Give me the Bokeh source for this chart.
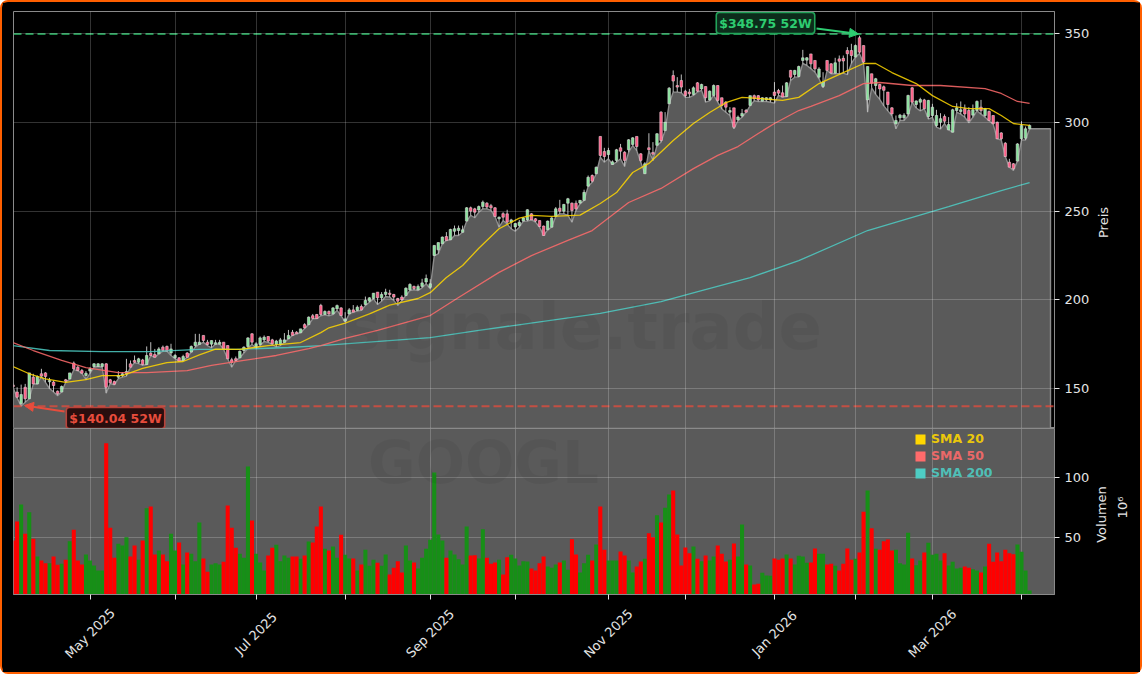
import math
from bokeh.core.properties import value
from bokeh.embed import file_html
from bokeh.layouts import column, row
from bokeh.models import Arrow, BoxAnnotation, FixedTicker, Label, NormalHead
from bokeh.plotting import figure
from bokeh.resources import INLINE

tick_indices = [19, 40, 60, 82, 103, 124, 147, 166, 188, 208, 227, 249]
tick_labels = {19: "May 2025", 60: "Jul 2025", 103: "Sep 2025", 147: "Nov 2025", 188: "Jan 2026", 227: "Mar 2026"}

lows = [
 150.7,144.7,140.04,142.3,144.2,152.5,152.5,156.8,153.5,150,
 148,146,148,153.5,155.4,160.6,160,158.5,155,158.5,
 162,162.4,162,147.4,152.8,152,155.6,156.4,157,162,
 164.5,164,163,163.5,168.5,167.6,169.5,171,171,168.6,
 166.8,165.4,165.8,167.6,170.5,173.3,175,176,174.2,172.9,
 175,175,172,166.7,162,165.8,167.3,170,172.5,175,
 172.5,174.2,176.5,176,174.8,173.3,174.2,176,178,179.9,
 180.8,181.4,183.8,186,189.3,189.4,191,191.5,191,191.7,
 194,191,187.4,192,193,193.6,194,196.8,198.6,200.5,
 197.3,199.2,201.8,201.5,199.6,196.8,199.6,202.4,205.2,205.6,
 205.2,206.7,209,206.2,224.9,225.9,231.5,233.4,233.8,236.2,
 236.2,238,244.3,247.5,246.2,249.3,251.2,251.2,250.3,246.9,
 240.9,244.6,242.7,239.9,238.6,240.9,244.3,244.3,245,243.7,
 240.9,236.2,239.4,240.9,246.9,248.4,248.4,247.5,243.7,250.3,
 254,256,263.8,266.2,271,280.3,277.5,279.4,276.2,277.5,
 279.4,275.1,283.1,286.9,284,277.5,271,284,278.4,286.9,
 288.8,295.3,310.4,317,317,316.6,314,314,315.1,317,
 318,311.3,312.1,315.1,311.3,307.5,305.6,303.8,296.3,301,
 302.8,305.6,309.4,312.1,311.7,311.7,311.7,311.3,310.8,315.1,
 314.2,314.5,323.5,325.4,325.4,333.1,332,330.2,328.2,324.5,
 319.4,329.2,327.3,327.3,327.3,327.7,326.8,333.1,336.7,338.7,
 333.1,305.7,319.4,315.7,312.9,309.2,306.4,303.7,296.3,301,
 301,303.7,311.3,308,306.4,307.6,301.8,302.8,297.2,296.2,
 299.2,295.7,294.4,305.7,304.6,302.8,299.6,302.8,306.4,304.6,
 302.8,300.8,299,290.6,290,280.7,274.7,272.9,278.1,290,
 290,296.3]

highs = [
 153,150.7,152.2,152.6,158.8,158.3,157.3,161.1,159.2,156,
 154.5,148.9,151.7,155.4,158.8,165.2,162.9,161,159.8,162,
 164.3,164.3,164.3,164.3,155.4,154.5,159.8,159.2,166.7,165.8,
 168.6,167.3,166.7,173.7,176.1,172.3,173.3,174.2,174.2,175.2,
 169.5,167.7,169,170.5,174.2,180.8,180.8,179.9,177.4,177,
 177.4,177.4,176.1,174.2,167.3,168,171.4,173.7,178.9,181.2,
 176.1,179.3,179.9,179.3,178,177.4,178.5,181.2,183,183,
 182.3,183.6,186.8,190.6,192,192,197.7,194,194,195.8,
 197.3,195.8,193,195.3,197,196.8,197.3,201.8,201.4,203.7,
 204.3,204.3,206.2,205.6,203.3,201.1,202.5,207,209.3,208,
 208.6,211.8,214.2,211.6,230.6,232.2,235.6,238.1,240,241.8,
 241.8,241.8,252.2,252.5,251.8,253.1,255.9,255,254,252.2,
 246.9,249.3,250.7,245.6,243.1,245,246.5,251,248.8,246,
 244.6,241.8,244.6,246.5,252.2,256.3,254,257.4,254.8,255.9,
 255.9,262,270,270.6,275,292,285.6,285.6,278.5,285,
 287.8,283.7,290.5,291.6,292,282.6,277.5,293.8,288.8,293.9,
 306.2,305.7,319.8,329.2,325.4,326.9,318.3,318.8,320.2,322.6,
 321.7,320.1,317.9,321.3,320.7,313.8,311.9,308.5,308.1,303.8,
 307.5,307.5,315,315.6,315.3,314.1,314.1,314.1,322.6,318.8,
 320.7,322.6,329.5,329.5,331.9,340.8,336.7,338.5,334.8,331,
 328.2,334.8,333.3,336.3,337.6,337.6,342.3,344.2,343.8,348.75,
 343.2,331.4,327.3,325,321.6,320.7,317,308.5,303.8,304.7,
 305.1,315.5,319.8,312.3,313.8,313.2,312.6,310.4,307,305.1,
 304.4,302.9,307.6,310.7,311.7,310,308.5,310,312.3,312.6,
 308.1,306.6,303.8,300.4,294.4,288.8,279.4,277,288.2,300.6,
 297.6,298.7]

body_lo = [
 151,145.1,141.4,144.2,144.2,152.6,152.6,157,156.8,153.8,
 151.7,147,148,154.1,155.4,161.1,160.1,158.6,157.3,159.8,
 162.4,162.4,162.4,150.7,153.2,152.4,156.4,157.3,158.3,162,
 164.8,164.8,163.5,163.5,168.6,167.6,169.5,171.4,171,170,
 167.3,165.4,165.8,167.6,170.5,174.2,174.8,177.1,174.8,175,
 174.9,175,172.3,166.7,164.6,165.8,167.3,171.4,173.7,176.1,
 173.3,174.8,177.4,176.7,175.2,174.8,174.8,176,178,179.9,
 180.8,181.4,184.2,186,189.5,189.4,191.7,191.7,192,192,
 194.9,191.1,188,192,193,194,194.3,197.3,199.2,200.7,
 201.1,201.1,203,203,201.5,199.2,200,202.4,205.6,206.3,
 205.6,207.5,210,207,224.9,228.1,231.5,233.4,233.8,238.6,
 239,238,244.3,249.9,249.3,250.6,252.5,252.2,251.8,246.9,
 245.6,246.5,243.7,243.7,241,241.8,244.3,245,245,244.3,
 241.3,236.2,239.4,240.9,246.9,249.9,249.9,254.4,250.3,251.2,
 254.5,256,264,266.8,271,281.3,280.7,281.8,276.2,278.5,
 283.7,278.5,284.5,287.5,286.3,278.5,271,284.5,282,287,
 289.7,295.3,310.4,323.2,319.8,319.8,315,316,315.6,317.5,
 318.8,313.8,312.6,315.1,312.3,309.4,308.5,305.7,297.2,301.4,
 303.5,305.7,309.5,313.2,312.6,311.9,312.6,312.6,315.1,316.4,
 314.2,314.5,325.4,326.9,325.8,334.8,335,332.9,330.1,325.4,
 320.2,329.2,327.7,327.7,334.4,334.5,338.6,337.6,336.7,339.5,
 333.9,312.6,322,320.7,318.8,318,310,304.7,299,302.5,
 302.5,304.7,311.3,310,311.3,307.6,303.2,303.8,298.2,300,
 300.6,295.7,294.4,306.6,306,304.7,301,304,306.6,306.5,
 303.8,301,299.1,290.7,290.7,280.7,274.7,273.8,278.1,290.7,
 291,296.3]

body_hi = [
 152,148,146.6,150.7,158.8,156.4,156.7,158.3,158.8,154.5,
 153.6,148.5,151.1,154.9,158.8,164.3,162,160.1,158.6,161.1,
 163.9,163.9,163.9,163.9,154.9,153.9,157.3,158.3,159.6,163.9,
 165.8,166.7,166.1,168.6,169.9,169.2,172.3,173.3,173.7,172.3,
 168.6,167.3,168,170,173.7,176.1,176.1,179.9,176.1,177,
 175.8,176,176.1,174.2,166.2,166.8,171,173.3,178.5,180.8,
 175.2,178.5,178.9,179.3,177.4,176.7,177.4,177.4,179.9,181.7,
 181.7,183.6,186,190.2,191,191.7,196.8,193.4,193.4,195.4,
 196.7,195.4,189.2,194.3,194.3,195.8,196.2,199.6,201.1,203.7,
 204.3,203,204.3,203.7,203,200.7,201.5,206.5,208.6,207.5,
 207.5,209.5,212,209,230.6,232.2,235.3,235.6,239.6,240,
 240.3,239.4,251.8,251.8,251.2,252.5,255,254.4,253,251.8,
 246.5,248.5,248.4,245,243,243.7,246.1,250.7,248.4,245.6,
 244.6,241.5,244.3,246.1,251.2,251.6,253.7,256.9,254.4,254.4,
 256,260.5,269,270,274.7,292,283.5,284.1,277.7,284.5,
 285.6,283.1,290.1,291.2,292,282.2,276.6,285.6,283,293.5,
 305.7,300,319.2,326.3,320.7,323.5,317.5,317,319.4,322.2,
 321.3,320.1,317.5,320.7,320.7,313.8,311.3,306.6,308.1,302.9,
 305,306.7,315,315,315,313.8,313.8,313.8,317,317.9,
 316.6,322.2,329.2,329.2,331.4,336.3,336.3,338.5,334.8,330,
 322.6,334.8,332.9,333.5,335.7,336,340.4,340.4,343.2,347.6,
 343.2,331.4,327.3,324.5,321.3,320,317,308.1,301,304,
 304,315.1,319.4,312,312.8,312.6,312.3,308.5,303.8,302,
 303.2,298.7,307,308.1,307,307.6,306.6,307,311.7,308.5,
 307.6,306.1,303.8,300,294,288.2,277.5,276.6,287.8,298.2,
 296.3,298.2]

volumes = [
 47.5,63.3,77.5,53.1,71.1,48.9,34.2,30.8,28.6,28.6,
 34.2,27.2,28.1,31.4,46.9,56.4,30.8,27.5,35.8,30.8,
 26.7,22.5,22.5,128.6,58.1,33.1,44.7,43.3,50.3,34.2,
 43.3,31.4,47.5,74.4,75.8,35.8,39.2,35.8,30.3,53.1,
 39.2,45.8,27.5,37.5,36.4,30.3,62.5,32.5,21.4,27.5,
 28.6,27.5,29.7,76.7,58.1,41.4,36.4,33.1,109.2,64.2,
 36.4,29.2,22.5,35,41.4,43.9,30.3,35,33.1,34.2,
 34.2,32.2,35,46.7,45.8,59.2,75.8,40.6,39.2,42.5,
 33.1,52.2,35.6,32.5,32.5,22.5,27.5,39.7,26.4,31.4,
 28.9,26.4,35.8,19.2,24.7,30.3,20.8,43.3,30.8,29.2,
 24.2,33.1,40.6,48.1,104.2,52.5,47.5,33.1,39.2,35.8,
 31.9,27.5,59.2,35,35.3,32.5,56.9,33.1,28.1,29.2,
 31.4,19.2,33.6,35.6,32.5,26.7,30.3,30,24.2,22.5,
 28.6,34.2,25.8,24.7,27.5,29.2,30.8,23.1,48.6,35.8,
 20.8,28.6,35.6,30.8,44.2,75.8,39.7,30.8,30.8,30.8,
 38.3,35,30.8,20.8,25.8,30,32.2,53.6,50.3,68.6,
 62.5,74.7,85.8,89.2,52.5,26.7,41.7,36.9,42.5,32.2,
 30.3,35,30.8,34.2,43.3,36.4,30,31.4,45,34.2,
 60.8,27.5,26.7,10.8,11.4,20.6,18.3,18.1,32.5,31.4,
 32.5,35.8,32.5,27.5,34.7,34.2,28.9,29.2,40.8,36.4,
 36.4,27.5,28.1,26.4,22.5,28.1,40.8,31.4,32.2,37.5,
 71.4,89.2,57.8,40.6,39.7,46.9,48.3,39.2,39.7,28.6,
 27.5,53.9,32.5,26.9,30.8,37.5,45.6,35.6,36.4,30.8,
 36.9,26.7,29.7,24.2,24.7,25.8,24.7,23.6,22.5,20.8,
 25.8,44.7,29.7,37.5,30.3,39.7,36.9,36.1,44.2,38.1,
 22.5,5.8]

direction = ("rrgrgrgrrg" "rrgrgrrrgg" "gggrrrgggr" "rgrgrrgrrg" "grgrgggrrg"
             "ggrrrrgggr" "gggrrggggr" "rgrgrrrgrg" "grggrgrggg" "rggrrrrggr"
             "gggggggrgg" "gggrrggrrr" "grrgggggrr" "rrgggrggrr" "gggrgrrggg"
             "rrggrrgrrg" "rggrrrrrgr" "grggrrrgrg" "grgrrgggrr" "rgrggggrrg"
             "grrgrrrrgr" "rgrgrrrrgg" "ggrggrgggg" "rggggrrggr" "grrrrrrrgg" "gg")

sma20_x = [0,4,8,13,18,22,27,32,38,42,46,50,56,63,71,76,78,82,88,93,100,103,107,111,115,120,125,128,133,140,145,149,153,157,163,168,172,176,180,184,190,194,199,205,210,213,217,223,227,232,236,241,244,247,251]
sma20_y = [162.4,158.3,155.4,153.4,155,157.3,157.3,161.3,164.6,165.2,169,172.2,172,174.2,175.9,181.5,184.2,186.8,192,197,200.7,204,212.5,219.3,229,240,246,247.5,247,247.7,254.2,260.4,271.7,276.8,289.7,299.3,305.5,311,314,313.4,312.3,314,321.8,328,333.1,333.1,328,321.8,315,308.9,307.7,307.7,303.8,299.3,298.2]
sma50_x = [0,5,12,18,26,33,43,49,57,65,73,76,82,90,103,110,120,128,137,143,152,160,168,174,179,184,188,194,197,204,210,214,222,229,240,244,248,251]
sma50_y = [175.9,171.4,165.8,161.8,159,159,160.1,163,165.8,168.6,172.5,174.2,178.2,182.7,191.1,201.3,215.4,224.9,233.4,239,254.8,262.7,273.9,281.3,286.3,293.7,299.3,306.6,308.9,315,321.8,322.4,320.7,320.7,319,316.2,311.7,310.6]
sma200_x = [0,9,22,34,46,55,68,76,103,115,127,145,160,170,182,194,211,231,244,251]
sma200_y = [174.2,171.4,170.8,170.8,172,172,173.1,174.2,178.7,182.7,186.6,192.3,199,205.2,212.5,222,239,252.5,261.5,266]

high_line = 349.7   # where the dashed line sits in the picture
low_line = 140.04
high_52w_text = "$348.75 52W"
low_52w_text = "$140.04 52W"
legend_names = ["SMA 20", "SMA 50", "SMA 200"]
legend_colors = ["#FFD700", "#FF6B6B", "#4ECDC4"]
watermark_top = "signale.trade"
watermark_bottom = "GOOGL"
side_texts = ["Preis", "Volumen", "10⁶"]

FONT = "DejaVu Sans"
AREA = "#5a5a5a"
EDGE = "#8a8a8a"
TXT = "#e4e4e4"
UP_VOL, DOWN_VOL = "#178f17", "#ff0000"
UP_BODY, DOWN_BODY = "#86e39a", "#ff5c86"

ix = lambda px: (px - 12.55) / 4.05
pr = lambda py: 150 + (388 - py) / 1.775
vl = lambda py: 50 + (537 - py) / 1.2

n = len(lows)
xs = list(range(n))
up = [d == "g" for d in direction]


def style(p):
    p.background_fill_color = "#000000"
    p.border_fill_color = "#000000"
    p.outline_line_color = EDGE
    p.outline_line_width = 1
    p.xaxis.ticker = FixedTicker(ticks=tick_indices)
    p.xgrid.ticker = FixedTicker(ticks=tick_indices)
    for g in (p.xgrid, p.ygrid):
        g.grid_line_color = "#ffffff"
        g.grid_line_alpha = 0.2
        g.grid_line_width = 1
        g.level = "glyph"
    ax = p.yaxis[0]
    ax.axis_line_color = EDGE
    ax.major_tick_line_color = TXT
    ax.major_tick_out = 5
    ax.major_tick_in = 0
    ax.minor_tick_line_color = None
    ax.major_label_text_color = TXT
    ax.major_label_text_font = FONT
    ax.major_label_text_font_size = "13px"
    ax.major_label_standoff = 5


frame = dict(output_backend="svg", toolbar_location=None, width=1090,
             x_range=(ix(13), ix(1054)), y_axis_location="right",
             min_border_left=11, min_border_right=38)

p1 = figure(height=426, y_range=(pr(428), pr(11)), min_border_top=9, min_border_bottom=0, **frame)
style(p1)
p1.xaxis.visible = False
p1.yaxis.ticker = FixedTicker(ticks=[150, 200, 250, 300, 350])

area_x = xs + [ix(1050), ix(1050), 0]
area_y = lows + [lows[-1], pr(428), pr(428)]
p1.patch(area_x, area_y, fill_color=AREA, line_color="#8c8c8c", line_width=1.4, level="underlay")

p1.add_layout(Label(x=ix(582), y=pr(326), text=watermark_top, text_font=FONT, text_font_style="bold",
                    text_font_size="64px", text_color="#000000", text_alpha=0.05,
                    text_align="center", text_baseline="middle"))

p1.segment(xs, lows, xs, highs, line_color="#bdbdbd", line_width=1)
p1.vbar(x=[x for x in xs if up[x]], width=0.62,
        bottom=[body_lo[x] for x in xs if up[x]], top=[body_hi[x] for x in xs if up[x]],
        fill_color=UP_BODY, line_color="#d8d8d8", line_width=0.6)
p1.vbar(x=[x for x in xs if not up[x]], width=0.62,
        bottom=[body_lo[x] for x in xs if not up[x]], top=[body_hi[x] for x in xs if not up[x]],
        fill_color=DOWN_BODY, line_color="#e8c8d0", line_width=0.6)

p1.line(sma200_x, sma200_y, line_color=legend_colors[2], line_width=1.3, line_alpha=0.85)
p1.line(sma50_x, sma50_y, line_color=legend_colors[1], line_width=1.3, line_alpha=0.85)
p1.line(sma20_x, sma20_y, line_color=legend_colors[0], line_width=1.3, line_alpha=0.85)

p1.line([ix(13), ix(1054)], [high_line, high_line], line_color="#2ecc71", line_alpha=0.7,
        line_width=2, line_dash=[8, 4])
p1.line([ix(13), ix(1054)], [low_line, low_line], line_color="#e74c3c", line_alpha=0.75,
        line_width=2, line_dash=[8, 4])

p1.add_layout(Arrow(x_start=ix(816), y_start=pr(28), x_end=ix(858), y_end=high_line,
                    line_color="#2ecc71", line_width=2,
                    end=NormalHead(size=9, fill_color="#2ecc71", line_color="#2ecc71")))
p1.add_layout(Arrow(x_start=ix(64), y_start=pr(411), x_end=ix(24), y_end=pr(405),
                    line_color="#e74c3c", line_width=2,
                    end=NormalHead(size=9, fill_color="#e74c3c", line_color="#e74c3c")))
p1.add_layout(Label(x=ix(765), y=pr(22.5), text=high_52w_text, text_font=FONT, text_font_style="bold",
                    text_font_size="12.5px", text_color="#2ecc71", text_align="center", text_baseline="middle",
                    background_fill_color="#0c2c1b", border_line_color="#22a45a", border_line_width=1.6,
                    border_radius=3, padding=3))
p1.add_layout(Label(x=ix(115), y=pr(417.5), text=low_52w_text, text_font=FONT, text_font_style="bold",
                    text_font_size="12.5px", text_color="#e74c3c", text_align="center", text_baseline="middle",
                    background_fill_color="#2a0e0e", border_line_color="#b8423a", border_line_width=1.6,
                    border_radius=3, padding=3))

p2 = figure(height=172, y_range=(vl(594), vl(428)), min_border_top=0, min_border_bottom=6, **frame)
style(p2)
p2.background_fill_color = AREA
p2.xgrid.level = "underlay"
p2.ygrid.level = "underlay"
p2.yaxis.ticker = FixedTicker(ticks=[50, 100])
p2.xaxis.major_label_overrides = {i: "" for i in tick_indices}
p2.xaxis.axis_line_color = EDGE
p2.xaxis.major_tick_line_color = TXT
p2.xaxis.major_tick_out = 5
p2.xaxis.major_tick_in = 0
p2.xaxis.minor_tick_line_color = None

p2.add_layout(Label(x=ix(483), y=vl(462), text=watermark_bottom, text_font=FONT, text_font_style="bold",
                    text_font_size="58px", text_color="#000000", text_alpha=0.05,
                    text_align="center", text_baseline="middle"))
p2.vbar(x=[x for x in xs if up[x]], width=1.0, bottom=0, top=[volumes[x] for x in xs if up[x]],
        fill_color=UP_VOL, line_color=None)
p2.vbar(x=[x for x in xs if not up[x]], width=1.0, bottom=0, top=[volumes[x] for x in xs if not up[x]],
        fill_color=DOWN_VOL, line_color=None)

for name, colour, py in zip(legend_names, legend_colors, [439, 456, 473]):
    p2.add_layout(BoxAnnotation(left=ix(915), right=ix(925), top=vl(py - 5), bottom=vl(py + 5),
                                fill_color=colour, fill_alpha=1, line_color=None))
    p2.add_layout(Label(x=ix(930.5), y=vl(py - 1), text=name, text_font=FONT, text_font_style="bold",
                        text_font_size="12.5px", text_color=colour, text_alpha=0.9, text_baseline="middle"))


def blank(p):
    p.background_fill_color = "#000000"
    p.border_fill_color = "#000000"
    p.outline_line_color = None
    p.grid.visible = False


# tick labels are centred on their ticks, which an axis cannot do at 45 degrees
p3 = figure(output_backend="svg", toolbar_location=None, width=1090, height=72,
            x_range=(ix(13), ix(1054)), y_range=(672, 600), x_axis_location=None, y_axis_location=None,
            min_border_left=11, min_border_right=38, min_border_top=0, min_border_bottom=0)
blank(p3)
tick_label_x = list(tick_labels)
p3.text(x=tick_label_x, y=[633] * len(tick_label_x), text=[tick_labels[i] for i in tick_label_x],
        angle=math.pi / 4, text_font=value(FONT), text_font_size=value("13px"), text_color=TXT,
        text_align="center", text_baseline="middle")

# rotated axis titles in their own strip to the right of the axes
side = figure(output_backend="svg", toolbar_location=None, width=48, height=670,
              x_range=(1092, 1140), y_range=(672, 2), x_axis_location=None, y_axis_location=None,
              min_border_left=0, min_border_right=0, min_border_top=0, min_border_bottom=0)
blank(side)
side.text(x=[1103, 1101, 1122], y=[222, 514, 507], text=side_texts, angle=math.pi / 2,
          text_font=value(FONT), text_font_size=value("13px"), text_color=TXT,
          text_align="center", text_baseline="middle")

page = row(column(p1, p2, p3, spacing=0), side, spacing=0,
           styles={"background": "#000000", "border": "2px solid #ff5f00", "border-radius": "8px"})

assert len(lows) == len(highs) == len(body_lo) == len(body_hi) == len(volumes) == len(direction) == 252

open("out.html", "w").write(file_html(page, INLINE))
